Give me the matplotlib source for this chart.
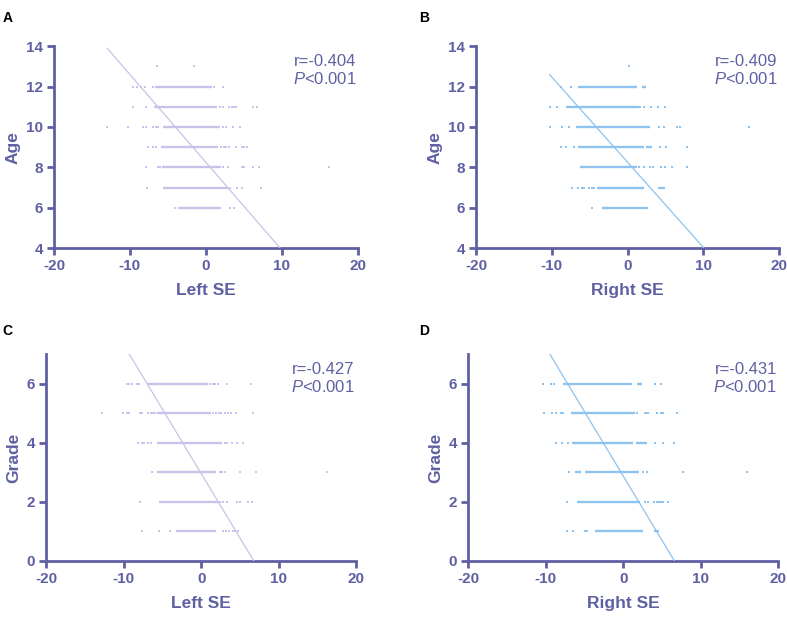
import matplotlib
matplotlib.use("Agg")
import matplotlib.pyplot as plt
import numpy as np

plt.rcParams['font.family'] = ['Liberation Sans', 'DejaVu Sans']
plt.rcParams['mathtext.fontset'] = 'custom'
plt.rcParams['mathtext.it'] = 'Liberation Sans:italic'
plt.rcParams['mathtext.rm'] = 'Liberation Sans'
plt.rcParams['axes.unicode_minus'] = False

# rows (integer y values) for each panel
age_rows = [13, 12, 11, 10, 9, 8, 7, 6]
grade_rows = [6, 5, 4, 3, 2, 1]

# A: Left SE vs Age -- dense runs of points (from, to) and single points
left_age_runs = [[], [(-6.7, 0.8)], [(-6.85, 1.4)], [(-5.7, 1.85)],
                 [(-5.95, 1.6)], [(-5.8, 2.05)], [(-5.7, 2.95)], [(-3.35, 2.05)]]
left_age_dots = [[-6.5, -1.6],
                 [-9.65, -9.1, -8.5, -8.0, -7.0, 1.1, 2.3],
                 [-9.55, -7.9, 1.85, 2.2, 3.05, 3.4, 3.7, 3.95, 6.2, 6.75],
                 [-13.05, -10.2, -8.25, -7.9, -6.95, -6.6, -6.3, 2.2, 2.7, 3.6, 4.45],
                 [-7.6, -6.95, -6.6, 2.05, 2.35, 2.7, 3.05, 3.95, 4.7, 5.0, 5.35],
                 [-7.95, -6.35, -6.05, 2.3, 2.95, 4.7, 5.0, 6.2, 7.0, 16.25],
                 [-7.7, 3.15, 4.05, 4.7, 7.2],
                 [-4.1, -3.5, 3.15, 3.7]]

# B: Right SE vs Age
right_age_runs = [[], [(-6.6, 1.2), (1.9, 2.45)], [(-8.1, 1.45)], [(-6.8, 2.95)],
                  [(-6.5, 2.1), (2.45, 3.2)], [(-6.35, 1.2)], [(-4.0, 2.1), (4.05, 4.95)],
                  [(-3.4, 2.75)]]
right_age_dots = [[0.2],
                  [-8.8, -7.5],
                  [-10.3, -9.35, 1.65, 2.1, 3.1, 4.05, 4.95],
                  [-10.25, -8.7, -7.7, 4.2, 4.8, 6.5, 6.9, 16.05],
                  [-8.8, -8.1, -7.05, 4.3, 5.1, 7.8],
                  [1.55, 2.1, 2.9, 3.3, 4.4, 4.95, 5.85, 7.8],
                  [-7.35, -6.5, -6.05, -5.75, -5.05, -4.75, -4.5],
                  [-4.65]]

# C: Left SE vs Grade
left_grade_runs = [[(-7.05, 0.9)], [(-5.7, 1.3)], [(-5.75, 2.7)], [(-5.7, 1.95)],
                   [(-5.45, 2.15)], [(-3.3, 1.95)]]
left_grade_dots = [[-9.65, -9.3, -9.0, -8.35, -8.05, 1.1, 1.45, 1.75, 2.15, 3.25, 6.35],
                   [-12.85, -10.15, -9.65, -9.3, -7.95, -7.6, -6.85, -6.5, -6.25, -6.0,
                    1.55, 1.9, 2.3, 2.6, 3.0, 3.45, 3.8, 4.5, 6.7],
                   [-8.15, -7.7, -7.35, -6.85, -6.45, 3.0, 3.25, 3.9, 4.55, 5.4],
                   [-6.3, 2.4, 2.7, 3.05, 4.95, 7.0, 16.25],
                   [-7.95, 2.4, 2.8, 3.25, 4.55, 4.95, 6.05, 6.6],
                   [-7.6, -5.45, -4.0, 2.8, 3.2, 3.6, 4.05, 4.4, 4.75]]

# D: Right SE vs Grade
right_grade_runs = [[(-7.75, 1.1), (1.75, 2.35)], [(-6.8, 1.5)], [(-6.65, 1.3), (1.65, 3.0)],
                    [(-6.2, -5.4), (-4.95, 2.05)], [(-6.0, 2.15)], [(-3.65, 2.6), (3.95, 4.65)]]
right_grade_dots = [[-10.4, -9.35, -8.95, 4.1, 4.85],
                    [-10.25, -9.25, -8.7, -8.1, -7.75, 1.75, 2.8, 3.05, 3.25, 4.3, 4.85,
                     5.0, 5.15, 6.9],
                    [-8.7, -7.95, -7.1, 4.1, 5.1, 6.55],
                    [-6.95, 2.6, 3.1, 7.75, 15.95],
                    [-7.25, 2.8, 3.25, 3.95, 4.3, 4.6, 4.85, 5.1, 5.8],
                    [-7.3, -6.45, -4.95, -4.7]]

# fitted lines: intercept, slope, x range
fit_intercept = [8.25, 8.25, 2.95, 2.87]
fit_slope = [-0.435, -0.422, -0.436, -0.436]
fit_xrange = [(-13.0, 10.0), (-10.3, 10.0), (-9.3, 6.8), (-9.45, 6.6)]
r_values = ['-0.404', '-0.409', '-0.427', '-0.431']
panel_letters = ['A', 'B', 'C', 'D']
x_labels = ['Left SE', 'Right SE', 'Left SE', 'Right SE']
y_labels = ['Age', 'Age', 'Grade', 'Grade']

ink = '#5F60A3'
lavender = '#C7C3EA'
blue = '#8DC3EE'

fig = plt.figure(figsize=(7.87, 6.17), dpi=100)
rects = [[0.0686, 0.598, 0.386, 0.327],
         [0.605, 0.598, 0.385, 0.327],
         [0.0588, 0.091, 0.394, 0.335],
         [0.595, 0.091, 0.394, 0.335]]

panels = [(age_rows, left_age_runs, left_age_dots, lavender, (4, 14), [4, 6, 8, 10, 12, 14]),
          (age_rows, right_age_runs, right_age_dots, blue, (4, 14), [4, 6, 8, 10, 12, 14]),
          (grade_rows, left_grade_runs, left_grade_dots, lavender, (0, 7), [0, 2, 4, 6]),
          (grade_rows, right_grade_runs, right_grade_dots, blue, (0, 7), [0, 2, 4, 6])]

for i, (rows, runs, dots, col, ylim, yticks) in enumerate(panels):
    ax = fig.add_axes(rects[i])
    for y, rr, dd in zip(rows, runs, dots):
        for a, b in rr:
            ax.hlines(y, a, b, color=col, lw=1.7, zorder=2)
        ax.scatter(dd, [y] * len(dd), s=3.5, marker='s', color=col, linewidths=0, zorder=2)
    xs = np.array(fit_xrange[i])
    ax.plot(xs, fit_intercept[i] + fit_slope[i] * xs, color=col, lw=0.9, zorder=3)

    ax.set_xlim(-20, 20)
    ax.set_ylim(*ylim)
    ax.set_xticks([-20, -10, 0, 10, 20])
    ax.set_yticks(yticks)
    for s in ['top', 'right']:
        ax.spines[s].set_visible(False)
    for s in ['left', 'bottom']:
        ax.spines[s].set_color(ink)
        ax.spines[s].set_linewidth(2.0)
    ax.tick_params(colors=ink, width=2.0, length=5, labelsize=11, pad=3)
    for lab in ax.get_xticklabels() + ax.get_yticklabels():
        lab.set_fontweight('bold')
    ax.set_xlabel(x_labels[i], fontsize=12.5, fontweight='bold', color=ink, labelpad=7)
    ax.set_ylabel(y_labels[i], fontsize=12.5, fontweight='bold', color=ink, labelpad=4)
    ax.text(0.995, 0.96, 'r=' + r_values[i] + '\n$P$<0.001', transform=ax.transAxes,
            ha='right', va='top', fontsize=12, color=ink, linespacing=1.15)

fig.text(0.003, 0.982, 'A', fontsize=10, fontweight='bold', va='top')
fig.text(0.532, 0.982, 'B', fontsize=10, fontweight='bold', va='top')
fig.text(0.003, 0.475, 'C', fontsize=10, fontweight='bold', va='top')
fig.text(0.532, 0.475, 'D', fontsize=10, fontweight='bold', va='top')

fig.savefig('out.png', dpi=100)
